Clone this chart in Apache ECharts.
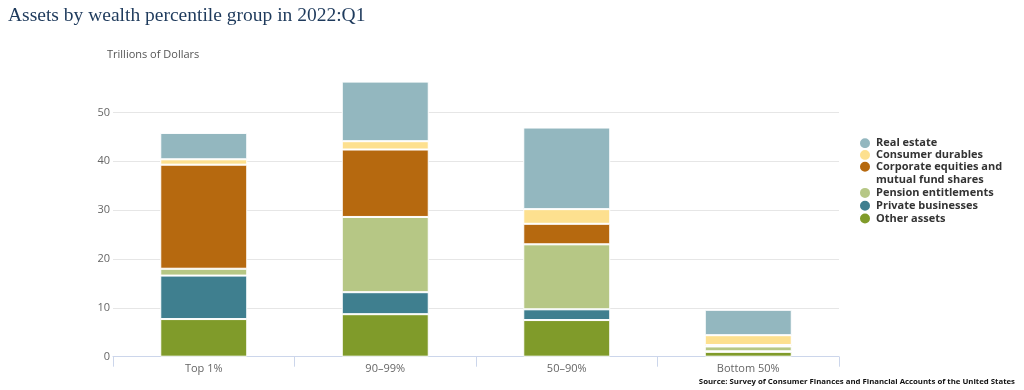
<!DOCTYPE html>
<html>
<head>
<meta charset="utf-8">
<script src="https://cdn.jsdelivr.net/npm/echarts@6/dist/echarts.min.js"></script>
<style>html,body{margin:0;padding:0;background:#fff}#c{width:1024px;height:390px}</style>
</head>
<body>
<div id="c"></div>
<script>
const categories = ['Top 1%', '90–99%', '50–90%', 'Bottom 50%'];
const otherAssets = [7.7, 8.7, 7.5, 1.0];
const privateBusinesses = [8.9, 4.5, 2.2, 0.1];
const pensionEntitlements = [1.4, 15.4, 13.3, 1.0];
const corporateEquities = [21.3, 13.8, 4.2, 0.3];
const consumerDurables = [1.1, 1.7, 3.0, 2.0];
const realEstate = [5.4, 12.2, 16.7, 5.2];
const yTicks = [0, 10, 20, 30, 40, 50];

const seriesDefs = [
  {name: 'Other assets', data: otherAssets, color: '#809b2a'},
  {name: 'Private businesses', data: privateBusinesses, color: '#3f7f8f'},
  {name: 'Pension entitlements', data: pensionEntitlements, color: '#b6c785'},
  {name: 'Corporate equities and mutual fund shares', data: corporateEquities, color: '#b6690f'},
  {name: 'Consumer durables', data: consumerDurables, color: '#fde08f'},
  {name: 'Real estate', data: realEstate, color: '#93b7bf'}
];
const legendOrder = [
  {name: 'Real estate', center: 142.7},
  {name: 'Consumer durables', center: 154.5},
  {name: 'Corporate equities and mutual fund shares', center: 166.8, twoLine: true},
  {name: 'Pension entitlements', center: 192.4},
  {name: 'Private businesses', center: 205.3},
  {name: 'Other assets', center: 218}
];

const chart = echarts.init(document.getElementById('c'), null, {renderer: 'canvas'});
const legendText = {fontFamily: 'Open Sans', fontSize: 11, fontWeight: 'bold', color: '#333', lineHeight: 13};
const legends = legendOrder.map(l => ({
  orient: 'vertical', left: 858,
  top: l.twoLine ? l.center - 19.5 : l.center - 6.5,
  padding: 0, itemWidth: 12, itemHeight: 12, itemGap: 0,
  icon: 'circle', selectedMode: false,
  data: [l.name],
  formatter: n => n === 'Corporate equities and mutual fund shares' ? ' \nCorporate equities and\nmutual fund shares' : n,
  textStyle: legendText
}));

chart.setOption({
  animation: false,
  title: [
    {text: 'Assets by wealth percentile group in 2022:Q1', left: 8, top: 6, padding: 0,
     textStyle: {fontFamily: 'Liberation Serif', fontSize: 19.5, fontWeight: 'normal', color: '#1e3a5c'}},
    {text: 'Trillions of Dollars', left: 107, top: 49, padding: 0,
     textStyle: {fontFamily: 'Open Sans', fontSize: 11, fontWeight: 'normal', color: '#555'}},
    {text: 'Source: Survey of Consumer Finances and Financial Accounts of the United States', right: 9, top: 378, padding: 0,
     textStyle: {fontFamily: 'Open Sans', fontSize: 7.8, fontWeight: 'bold', color: '#111'}}
  ],
  legend: legends,
  grid: {left: 113, right: 185, top: 73.3, bottom: 33.3, containLabel: false},
  xAxis: {
    type: 'category', data: categories,
    axisLine: {lineStyle: {color: '#ccd6eb'}},
    axisTick: {show: true, length: 10, lineStyle: {color: '#ccd6eb'}},
    axisLabel: {color: '#666', fontFamily: 'Open Sans', fontSize: 11, margin: 7}
  },
  yAxis: {
    type: 'value', min: 0, max: 58, interval: 10,
    axisLine: {show: false}, axisTick: {show: false},
    splitLine: {lineStyle: {color: ['#e6e6e6', '#e6e6e6', '#e6e6e6', '#e6e6e6', '#e6e6e6', '#e6e6e6', 'rgba(0,0,0,0)']}},
    axisLabel: {color: '#666', fontFamily: 'Open Sans', fontSize: 11, margin: 3,
      formatter: v => yTicks.includes(v) ? String(v) : ''}
  },
  series: seriesDefs.map(s => ({
    name: s.name, type: 'bar', stack: 'total', data: s.data, barWidth: 87,
    itemStyle: {color: s.color, borderColor: '#fff', borderWidth: 1}
  }))
});
</script>
</body>
</html>
